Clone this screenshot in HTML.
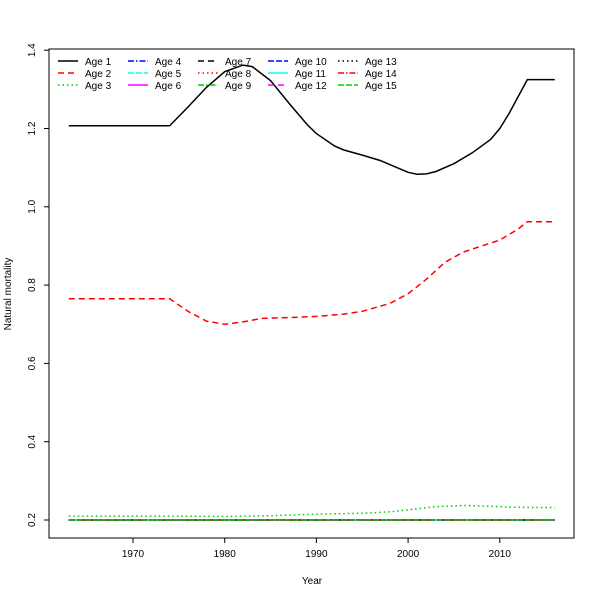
<!DOCTYPE html>
<html><head><meta charset="utf-8"><style>body{margin:0;background:#fff}svg{display:block;font-family:"Liberation Sans","DejaVu Sans",sans-serif}</style></head>
<body>
<svg id="s" width="600" height="600" viewBox="0 0 600 600">
<rect x="49" y="49" width="525" height="489" fill="none" stroke="#000" stroke-width="1"/>
<g id="g"></g>
</svg>
<script>
const NS="http://www.w3.org/2000/svg",g=document.getElementById('g');
const X=y=>133+(y-1970)*9.17, Y=v=>520-(v-0.2)*391.5;
function el(t,a,txt){const e=document.createElementNS(NS,t);for(const k in a)e.setAttribute(k,a[k]);if(txt!==undefined)e.textContent=txt;g.appendChild(e);return e;}
[1970,1980,1990,2000,2010].forEach(y=>{el('line',{x1:X(y),x2:X(y),y1:538,y2:543,stroke:'#000'});el('text',{x:X(y),y:557,'font-size':10,'text-anchor':'middle'},y);});
[0.2,0.4,0.6,0.8,1.0,1.2,1.4].forEach(v=>{el('line',{x1:44,x2:49,y1:Y(v),y2:Y(v),stroke:'#000'});el('text',{x:0,y:0,'font-size':10,'text-anchor':'middle',transform:`translate(35,${Y(v)}) rotate(-90)`},v.toFixed(1));});
el('text',{x:312,y:584,'font-size':10,'text-anchor':'middle'},'Year');
el('text',{x:0,y:0,'font-size':10,'text-anchor':'middle',transform:'translate(11,294) rotate(-90)'},'Natural mortality');
function path(pts,col,dash){el('path',{d:pts.map((p,i)=>(i?'L':'M')+X(p[0]).toFixed(1)+','+Y(p[1]).toFixed(1)).join(''),fill:'none',stroke:col,'stroke-width':1.5,'stroke-dasharray':dash||'none'});}
const cols=['#000','#f00','#0c0','#00f','#0ff','#f0f'];
const dashes=['','6,4','1.5,3','6,2,1.5,2','6,2,6,2','','6,4','1.5,3','6,2,1.5,2','6,2','','6,4','1.5,3','6,2,1.5,2','6,2'];
path([[1963,1.207],[1974,1.207],[1976,1.255],[1978,1.305],[1980,1.345],[1982,1.362],[1983,1.358],[1985,1.322],[1987,1.265],[1989,1.21],[1990,1.187],[1992,1.155],[1993,1.145],[1995,1.132],[1997,1.118],[1999,1.098],[2000,1.088],[2001,1.083],[2002,1.084],[2003,1.09],[2005,1.11],[2007,1.138],[2009,1.172],[2010,1.2],[2011,1.238],[2013,1.325],[2016,1.325]],cols[0],dashes[0]);
path([[1963,0.765],[1974,0.765],[1976,0.733],[1978,0.708],[1980,0.7],[1982,0.706],[1984,0.715],[1987,0.717],[1990,0.72],[1993,0.726],[1995,0.733],[1998,0.753],[2000,0.778],[2002,0.815],[2004,0.858],[2006,0.884],[2008,0.9],[2010,0.915],[2012,0.943],[2013,0.962],[2016,0.962]],cols[1],dashes[1]);
path([[1963,0.21],[1974,0.21],[1980,0.209],[1985,0.211],[1990,0.215],[1995,0.217],[1998,0.221],[2000,0.226],[2003,0.234],[2006,0.237],[2008,0.236],[2011,0.233],[2013,0.232],[2016,0.232]],cols[2],dashes[2]);
for(let i=3;i<15;i++) path([[1963,0.2],[2016,0.2]],cols[i%6],dashes[i]);
for(let i=0;i<15;i++){const c=Math.floor(i/3),r=i%3,x=58+c*70,y=61+r*12;
el('line',{x1:x,x2:x+20,y1:y,y2:y,stroke:cols[i%6],'stroke-width':1.5,'stroke-dasharray':dashes[i]||'none'});
el('text',{x:x+27,y:y+4,'font-size':10},'Age '+(i+1));}
</script>
</body></html>
